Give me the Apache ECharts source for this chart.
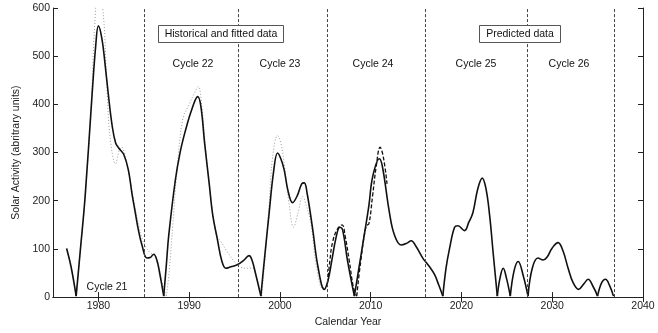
<!DOCTYPE html>
<html><head><meta charset="utf-8">
<script src="https://cdn.jsdelivr.net/npm/echarts@6/dist/echarts.min.js"></script>
<style>html,body{margin:0;padding:0;background:#fff}#c{width:658px;height:333px}</style>
</head><body><div id="c"></div>
<script>
const xTicks = [1980, 1990, 2000, 2010, 2020, 2030, 2040];
const cycleBounds = [1985.05, 1995.4, 2005.25, 2016.0, 2027.3, 2036.8];
const cycleNames = ['Cycle 21', 'Cycle 22', 'Cycle 23', 'Cycle 24', 'Cycle 25', 'Cycle 26'];
const boxTexts = ['Historical and fitted data', 'Predicted data'];

// fitted / predicted model (solid black)
const fitted = [
  [1976.5,101],[1977.0,62],[1977.55,2],[1978.0,95],[1978.54,209],[1979.28,413],[1979.7,520],
  [1980.0,563],[1980.4,535],[1980.75,481],[1981.1,420],[1981.5,358],[1981.9,320],[1982.3,308],
  [1982.8,296],[1983.3,264],[1983.7,215],[1984.06,176],[1984.4,140],[1984.8,108],[1985.35,81],
  [1985.7,82],[1986.1,89],[1986.45,76],[1986.75,50],[1987.2,2],[1987.5,70],[1987.75,128],
  [1988.48,243],[1989.0,300],[1989.58,345],[1990.3,390],[1990.95,416],[1991.3,395],[1991.7,320],
  [1992.2,237],[1992.6,170],[1993.1,121],[1993.6,75],[1994.04,60],[1994.6,63],[1995.3,67],
  [1996.0,76],[1996.6,86],[1996.9,78],[1997.3,50],[1997.9,2],[1998.3,80],[1998.82,176],
  [1999.3,260],[1999.74,299],[2000.1,287],[2000.47,264],[2000.9,220],[2001.39,196],[2001.9,210],
  [2002.4,235],[2002.68,237],[2003.0,215],[2003.6,142],[2004.2,62],[2004.89,16],[2005.3,35],
  [2005.7,74],[2006.2,125],[2006.6,145],[2006.9,140],[2007.46,74],[2008.2,2],[2008.7,60],
  [2009.3,130],[2009.8,190],[2010.22,250],[2010.96,287],[2011.3,270],[2012.06,176],[2012.6,130],
  [2013.36,108],[2014.0,112],[2014.46,117],[2015.0,105],[2015.74,81],[2016.4,65],[2017.03,47],
  [2017.5,25],[2017.95,2],[2018.3,60],[2018.69,101],[2019.24,145],[2019.6,148],[2020.34,138],
  [2020.8,155],[2021.26,175],[2021.8,225],[2022.29,247],[2022.7,225],[2023.1,170],[2023.5,90],
  [2023.95,2],[2024.25,40],[2024.6,60],[2024.95,40],[2025.38,2],[2025.8,55],[2026.25,74],
  [2026.8,45],[2027.33,2],[2027.8,60],[2028.43,81],[2029.0,77],[2029.4,82],[2030.0,102],
  [2030.64,113],[2031.2,95],[2031.75,60],[2032.3,30],[2032.9,16],[2033.5,28],[2033.95,37],
  [2034.5,22],[2034.99,2],[2035.45,30],[2035.87,37],[2036.3,25],[2036.75,2]
];

// historical data (grey dotted)
const historical = [
  [1976.5,101],[1977.0,62],[1977.55,2],[1978.0,95],[1978.54,205],[1979.2,400],[1979.58,560],
  [1980.0,650],[1980.57,580],[1980.9,450],[1981.3,330],[1981.9,277],[1982.3,305],[1982.6,311],
  [1982.9,294],[1983.3,262],[1983.7,220],[1984.1,180],[1984.5,145],[1984.8,122],[1985.2,105],
  [1985.7,92],[1986.2,86],[1986.6,70],[1987.0,30],[1987.5,2],[1987.8,53],[1988.2,150],
  [1988.6,250],[1989.3,370],[1990.0,400],[1990.5,420],[1991.0,437],[1991.4,395],[1991.8,310],
  [1992.2,235],[1992.7,160],[1993.1,125],[1993.5,115],[1994.2,94],[1994.96,74],[1995.7,62],
  [1996.4,60],[1997.0,60],[1997.4,40],[1998.0,2],[1998.4,90],[1998.8,190],[1999.2,291],
  [1999.74,335],[2000.1,320],[2000.47,277],[2001.0,195],[2001.5,145],[2002.0,175],[2002.5,209],
  [2002.9,190],[2003.4,155],[2004.0,67],[2004.7,18],[2005.0,22]
];

// cycle 24 observed (black dashed)
const cycle24 = [
  [2005.25,30],[2005.5,75],[2005.8,114],[2006.3,140],[2006.85,150],[2007.2,125],[2007.65,74],
  [2008.1,20],[2008.46,2],[2008.9,74],[2009.5,148],[2009.8,152],[2010.2,209],[2010.6,270],
  [2011.04,311],[2011.4,290],[2011.8,235]
];

function splitAtZeros(arr) {
  const segs = [];
  let cur = [];
  arr.forEach((p, i) => {
    cur.push(p);
    if (p[1] <= 2 && i > 0 && i < arr.length - 1) {
      segs.push(cur);
      cur = [p];
    }
  });
  if (cur.length > 1) segs.push(cur);
  return segs;
}

const FONT = 'Liberation Sans';
const series = [];
function addLines(arr, style, z) {
  splitAtZeros(arr).forEach(seg => {
    series.push({
      type: 'line', data: seg, smooth: 0.4, symbol: 'none', z: z,
      lineStyle: style, silent: true, clip: true
    });
  });
}
addLines(historical, { color: '#9a9a9a', width: 1, type: [1, 2] }, 2);
addLines(fitted, { color: '#111', width: 1.6 }, 4);
addLines(cycle24, { color: '#111', width: 1.3, type: [4, 2] }, 3);

series.push({
  type: 'line', data: [], silent: true,
  markLine: {
    symbol: 'none', silent: true, animation: false,
    label: { show: false },
    lineStyle: { type: [3, 2], color: '#444', width: 1 },
    data: cycleBounds.map(v => ({ xAxis: v }))
  }
});

const cyclePos = [[107, 287], [193, 64], [280, 64], [373, 64], [476, 64], [569, 64]];
const graphic = cycleNames.map((t, i) => ({
  type: 'text', x: cyclePos[i][0], y: cyclePos[i][1], z: 10,
  style: { text: t, font: '10.5px "' + FONT + '"', fill: '#111', align: 'center', verticalAlign: 'middle' }
}));
const boxes = [[158.5, 25.5, 125, 17], [479.5, 25.5, 81, 17]];
boxes.forEach((b, i) => {
  graphic.push({ type: 'rect', shape: { x: b[0], y: b[1], width: b[2], height: b[3] }, z: 9,
    style: { fill: '#fff', stroke: '#555', lineWidth: 1 } });
  graphic.push({ type: 'text', x: b[0] + b[2] / 2, y: b[1] + b[3] / 2 + 0.5, z: 11,
    style: { text: boxTexts[i], font: '10.5px "' + FONT + '"', fill: '#111', align: 'center', verticalAlign: 'middle' } });
});

const axisLine = { show: true, lineStyle: { color: '#222', width: 1 } };
const chart = echarts.init(document.getElementById('c'), null, { renderer: 'canvas' });
chart.setOption({
  animation: false,
  backgroundColor: '#fff',
  textStyle: { fontFamily: FONT },
  grid: { left: 53, right: 15, top: 8, bottom: 30 },
  xAxis: [{
    type: 'value', min: 1975, max: 2040, position: 'bottom',
    axisLine: axisLine,
    axisTick: { show: true, inside: true, length: 5, customValues: xTicks, lineStyle: { color: '#222' } },
    axisLabel: { customValues: xTicks, margin: 4, fontSize: 10.5, color: '#222', fontFamily: FONT,
      formatter: v => String(v) },
    splitLine: { show: false },
    name: 'Calendar Year', nameLocation: 'middle', nameGap: 19,
    nameTextStyle: { fontSize: 10.5, color: '#222', fontFamily: FONT }
  }, {
    type: 'value', min: 1975, max: 2040, position: 'top',
    axisLine: axisLine,
    axisTick: { show: true, inside: true, length: 5, customValues: xTicks, lineStyle: { color: '#222' } },
    axisLabel: { show: false }, splitLine: { show: false }
  }],
  yAxis: [{
    type: 'value', min: 0, max: 600, interval: 100, position: 'left',
    axisLine: axisLine,
    axisTick: { show: true, inside: true, length: 5, lineStyle: { color: '#222' } },
    axisLabel: { margin: 3, fontSize: 10.5, color: '#222', fontFamily: FONT, formatter: v => String(v) },
    splitLine: { show: false },
    name: 'Solar Activity (abritrary units)', nameLocation: 'middle', nameGap: 24,
    nameTextStyle: { fontSize: 10.5, color: '#222', fontFamily: FONT }
  }, {
    type: 'value', min: 0, max: 600, interval: 100, position: 'right',
    axisLine: axisLine,
    axisTick: { show: true, inside: true, length: 5, lineStyle: { color: '#222' } },
    axisLabel: { show: false }, splitLine: { show: false }
  }],
  series: series,
  graphic: graphic
});
</script>
</body></html>
